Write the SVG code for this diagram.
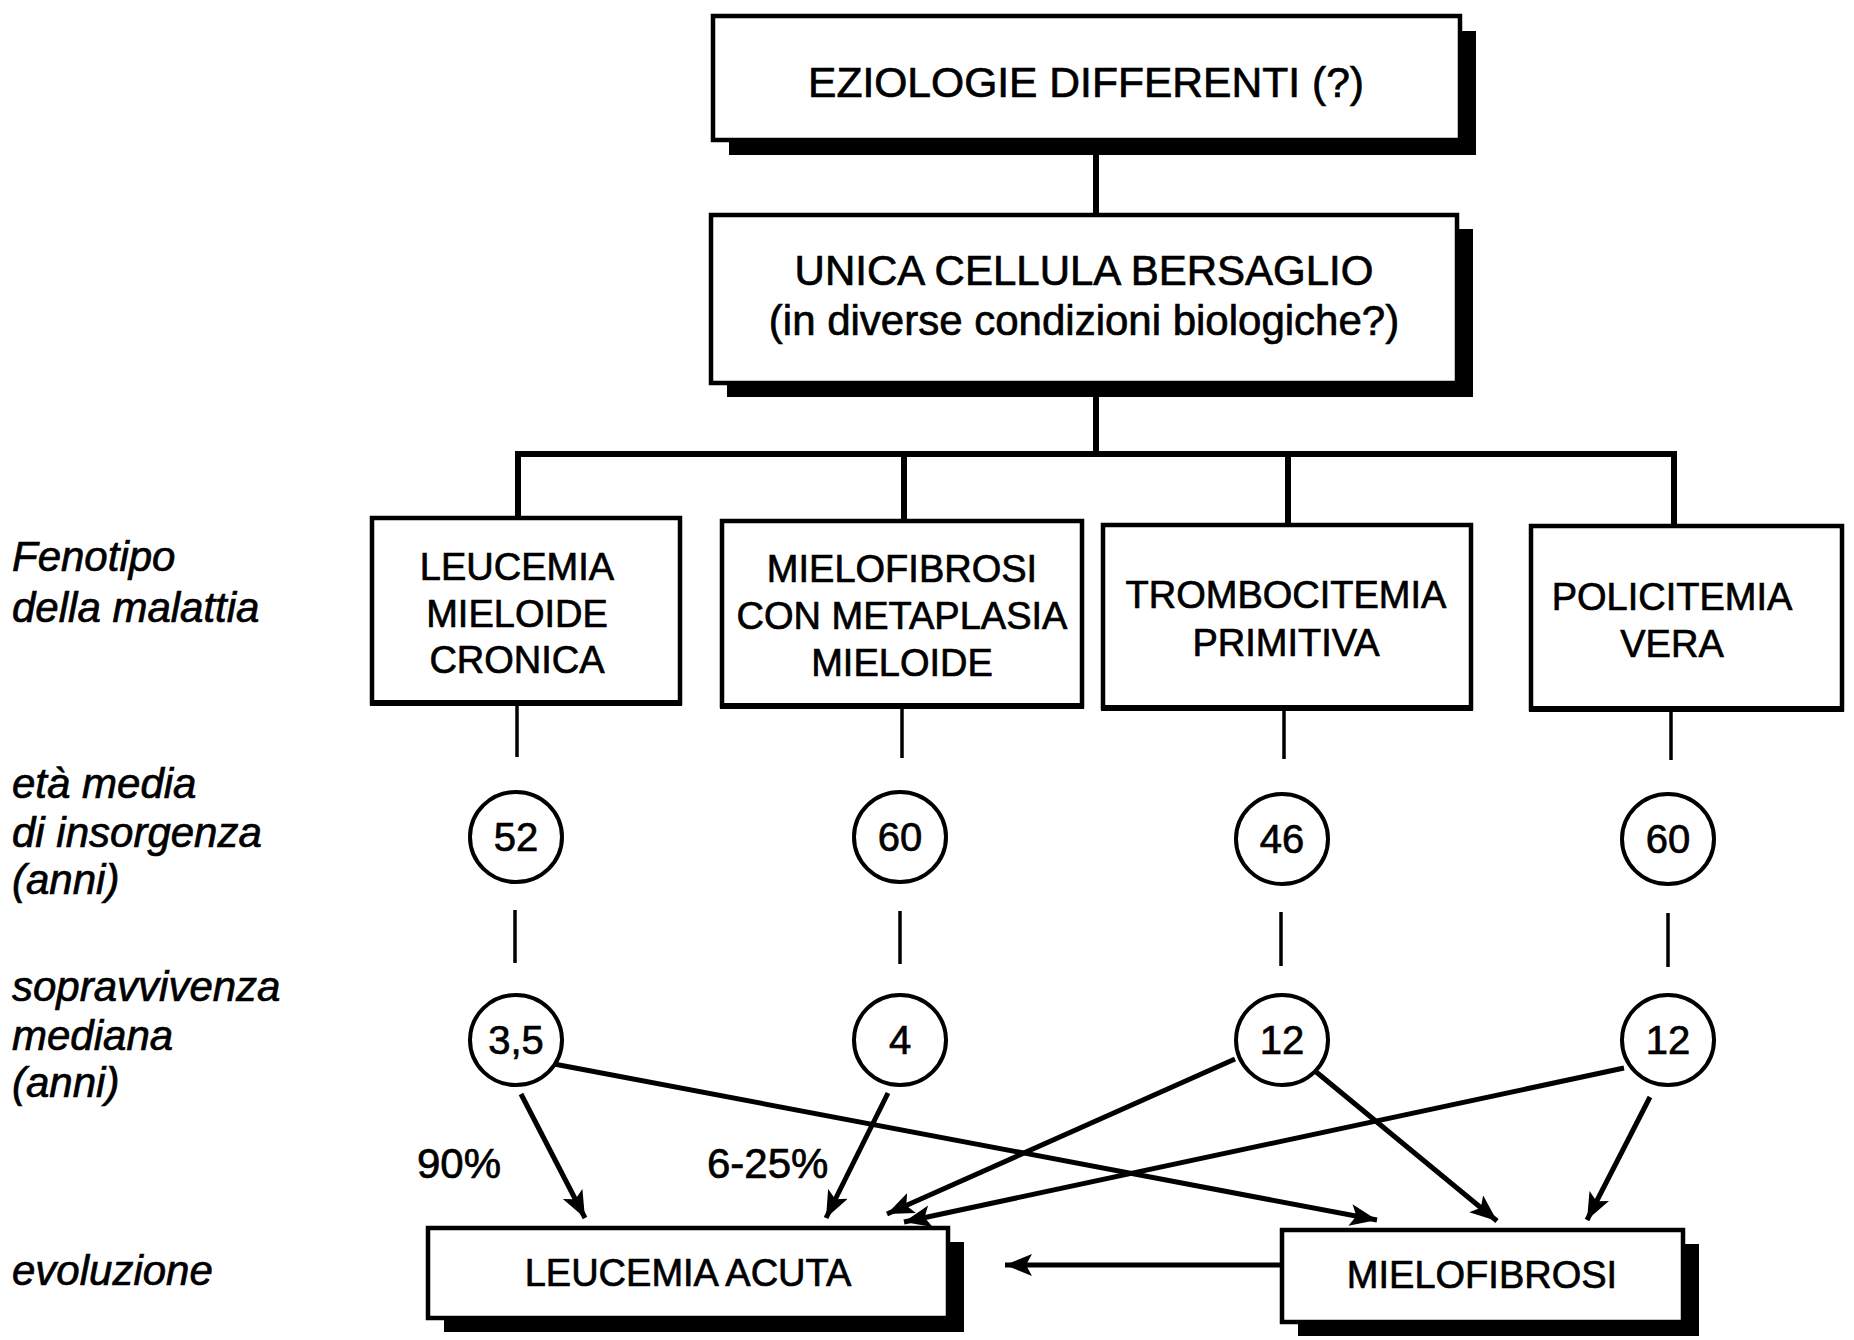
<svg xmlns="http://www.w3.org/2000/svg" width="1854" height="1340" viewBox="0 0 1854 1340">
  <defs>
    <marker id="arrow" markerUnits="userSpaceOnUse" markerWidth="30" markerHeight="24" refX="27" refY="11" orient="auto">
      <path d="M0,0 L27,11 L0,22 L6,11 z" fill="#000"/>
    </marker>
    <style>
      text { font-family: "Liberation Sans", Arial, Helvetica, sans-serif; fill: #000; stroke: #000; stroke-width: 0.7; }
      .box { fill: #fff; stroke: #000; stroke-width: 4.5; }
      .shadow { fill: #000; }
      .node-text { font-size: 38px; text-anchor: middle; }
      .big-text { font-size: 42px; text-anchor: middle; }
      .label { font-size: 42px; font-style: italic; }
      .pct { font-size: 42px; }
      .circle { fill: #fff; stroke: #000; stroke-width: 4; }
      .num { font-size: 40px; text-anchor: middle; }
      .tree { stroke: #000; stroke-width: 6; fill: none; }
      .tick { stroke: #000; stroke-width: 3.5; fill: none; }
      .flow { stroke: #000; stroke-width: 5; fill: none; marker-end: url(#arrow); }
    </style>
  </defs>

  <rect width="1854" height="1340" fill="#fff"/>

  <!-- row labels -->
  <g id="row-labels">
    <text class="label" x="12" y="571">Fenotipo</text>
    <text class="label" x="12" y="622">della malattia</text>
    <text class="label" x="12" y="798">età media</text>
    <text class="label" x="12" y="847">di insorgenza</text>
    <text class="label" x="12" y="894">(anni)</text>
    <text class="label" x="12" y="1001">sopravvivenza</text>
    <text class="label" x="12" y="1050">mediana</text>
    <text class="label" x="12" y="1097">(anni)</text>
    <text class="label" x="12" y="1285">evoluzione</text>
  </g>

  <!-- tree connectors, ticks and evolution arrows -->
  <g id="connectors">
    <line class="tree" x1="1096" y1="140" x2="1096" y2="215"/>
    <line class="tree" x1="1096" y1="383" x2="1096" y2="454"/>
    <line class="tree" x1="515" y1="454" x2="1677" y2="454" stroke-width="7"/>
    <line class="tree" x1="518" y1="451" x2="518" y2="518"/>
    <line class="tree" x1="904" y1="451" x2="904" y2="520"/>
    <line class="tree" x1="1288" y1="451" x2="1288" y2="525"/>
    <line class="tree" x1="1674" y1="451" x2="1674" y2="525"/>

    <line class="tick" x1="517" y1="704" x2="517" y2="757"/>
    <line class="tick" x1="902" y1="707" x2="902" y2="758"/>
    <line class="tick" x1="1284" y1="709" x2="1284" y2="759"/>
    <line class="tick" x1="1671" y1="710" x2="1671" y2="760"/>

    <line class="tick" x1="515" y1="910" x2="515" y2="963"/>
    <line class="tick" x1="900" y1="911" x2="900" y2="964"/>
    <line class="tick" x1="1281" y1="912" x2="1281" y2="966"/>
    <line class="tick" x1="1668" y1="913" x2="1668" y2="967"/>

    <line class="flow" x1="521" y1="1094" x2="585" y2="1218"/>
    <line class="flow" x1="888" y1="1093" x2="826" y2="1218"/>
    <line class="flow" x1="554" y1="1064" x2="1377" y2="1220"/>
    <line class="flow" x1="1235" y1="1059" x2="887" y2="1214"/>
    <line class="flow" x1="1315" y1="1071" x2="1497" y2="1221"/>
    <line class="flow" x1="1624" y1="1068" x2="904" y2="1222"/>
    <line class="flow" x1="1650" y1="1097" x2="1587" y2="1220"/>
    <line class="flow" x1="1282" y1="1265" x2="1005" y2="1265"/>

    <text class="pct" x="417" y="1178">90%</text>
    <text class="pct" x="707" y="1178">6-25%</text>
  </g>

  <!-- top: aetiology -->
  <g id="eziologie">
    <rect class="shadow" x="729" y="31" width="747" height="124"/>
    <rect class="box" x="713" y="16" width="747" height="124"/>
    <text class="big-text" x="1086" y="97" font-size="48" textLength="556" lengthAdjust="spacingAndGlyphs">EZIOLOGIE DIFFERENTI (?)</text>
  </g>

  <!-- target cell -->
  <g id="cellula">
    <rect class="shadow" x="727" y="229" width="746" height="168"/>
    <rect class="box" x="711" y="215" width="746" height="168"/>
    <text class="big-text" x="1084" y="285">UNICA CELLULA BERSAGLIO</text>
    <text class="big-text" x="1084" y="335">(in diverse condizioni biologiche?)</text>
  </g>

  <!-- disease phenotypes -->
  <g id="lmc">
    <rect class="box" x="372" y="518" width="308" height="185"/>
    <line x1="370" y1="703" x2="682" y2="703" stroke="#000" stroke-width="6"/>
    <text class="node-text" x="517" y="580">LEUCEMIA</text>
    <text class="node-text" x="517" y="627">MIELOIDE</text>
    <text class="node-text" x="517" y="673">CRONICA</text>
  </g>
  <g id="mmm">
    <rect class="box" x="722" y="521" width="360" height="185"/>
    <line x1="720" y1="706" x2="1084" y2="706" stroke="#000" stroke-width="6"/>
    <text class="node-text" x="902" y="582">MIELOFIBROSI</text>
    <text class="node-text" x="902" y="629">CON METAPLASIA</text>
    <text class="node-text" x="902" y="676">MIELOIDE</text>
  </g>
  <g id="tp">
    <rect class="box" x="1103" y="525" width="368" height="183"/>
    <line x1="1101" y1="708" x2="1473" y2="708" stroke="#000" stroke-width="6"/>
    <text class="node-text" x="1286" y="608">TROMBOCITEMIA</text>
    <text class="node-text" x="1286" y="656">PRIMITIVA</text>
  </g>
  <g id="pv">
    <rect class="box" x="1531" y="526" width="311" height="183"/>
    <line x1="1529" y1="709" x2="1844" y2="709" stroke="#000" stroke-width="6"/>
    <text class="node-text" x="1672" y="610">POLICITEMIA</text>
    <text class="node-text" x="1672" y="657">VERA</text>
  </g>

  <!-- median age at onset -->
  <g id="eta-lmc"><ellipse class="circle" cx="516" cy="837" rx="46" ry="45"/><text class="num" x="516" y="851">52</text></g>
  <g id="eta-mmm"><ellipse class="circle" cx="900" cy="837" rx="46" ry="45"/><text class="num" x="900" y="851">60</text></g>
  <g id="eta-tp"><ellipse class="circle" cx="1282" cy="839" rx="46" ry="45"/><text class="num" x="1282" y="853">46</text></g>
  <g id="eta-pv"><ellipse class="circle" cx="1668" cy="839" rx="46" ry="45"/><text class="num" x="1668" y="853">60</text></g>

  <!-- median survival -->
  <g id="sopr-lmc"><ellipse class="circle" cx="516" cy="1040" rx="46" ry="45"/><text class="num" x="516" y="1054">3,5</text></g>
  <g id="sopr-mmm"><ellipse class="circle" cx="900" cy="1040" rx="46" ry="45"/><text class="num" x="900" y="1054">4</text></g>
  <g id="sopr-tp"><ellipse class="circle" cx="1282" cy="1040" rx="46" ry="45"/><text class="num" x="1282" y="1054">12</text></g>
  <g id="sopr-pv"><ellipse class="circle" cx="1668" cy="1040" rx="46" ry="45"/><text class="num" x="1668" y="1054">12</text></g>

  <!-- evolution -->
  <g id="leucemia-acuta">
    <rect class="shadow" x="444" y="1242" width="520" height="90"/>
    <rect class="box" x="428" y="1228" width="520" height="90"/>
    <text class="node-text" x="688" y="1286">LEUCEMIA ACUTA</text>
  </g>
  <g id="mielofibrosi">
    <rect class="shadow" x="1298" y="1244" width="401" height="92"/>
    <rect class="box" x="1282" y="1230" width="401" height="92"/>
    <text class="node-text" x="1482" y="1288">MIELOFIBROSI</text>
  </g>
</svg>
